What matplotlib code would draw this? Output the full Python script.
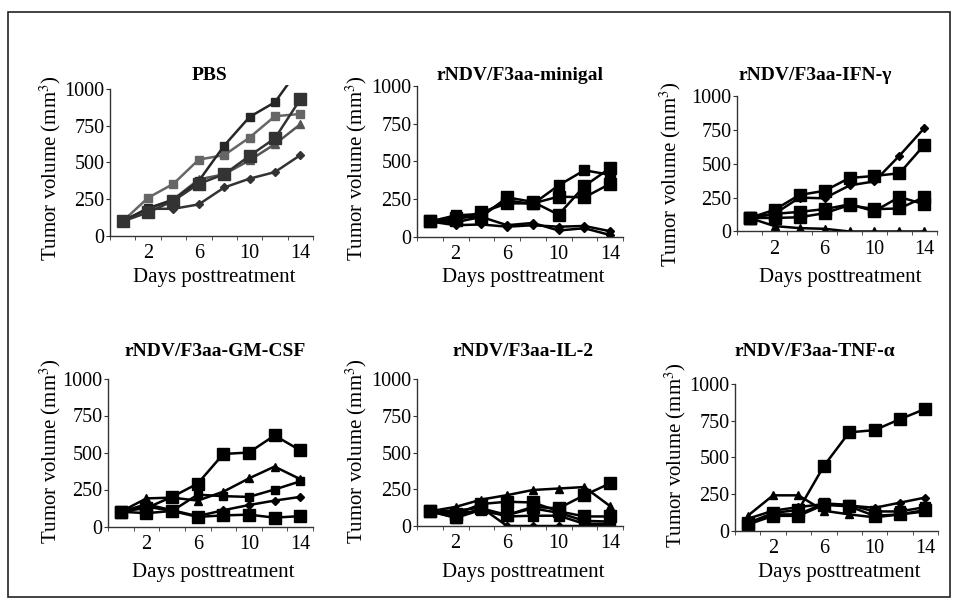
import matplotlib
matplotlib.use("Agg")
import matplotlib.pyplot as plt
from matplotlib.patches import Rectangle

plt.rcParams["font.family"] = ["Liberation Serif", "DejaVu Serif"]
plt.rcParams["mathtext.fontset"] = "stix"

W, H = 959, 608

days = [0, 2, 4, 6, 8, 10, 12, 14]
tick_days = [2, 6, 10, 14]
y_ticks = [0, 250, 500, 750, 1000]

titles = [
    "PBS",
    "rNDV/F3aa-minigal",
    "rNDV/F3aa-IFN-γ",
    "rNDV/F3aa-GM-CSF",
    "rNDV/F3aa-IL-2",
    "rNDV/F3aa-TNF-α",
]

# tumour volumes (mm3) per mouse, days 0..14
pbs_a = [100, 190, 245, 375, 615, 810, 910, 1150]
pbs_b = [100, 260, 355, 520, 550, 670, 815, 830]
pbs_c = [100, 160, 240, 355, 420, 545, 665, 930]
pbs_d = [100, 185, 250, 385, 420, 515, 625, 760]
pbs_e = [100, 185, 185, 215, 330, 390, 435, 550]

minigal_a = [100, 140, 150, 240, 215, 340, 440, 410]
minigal_b = [100, 110, 160, 220, 220, 265, 260, 350]
minigal_c = [100, 125, 130, 260, 230, 145, 335, 455]
minigal_d = [100, 75, 80, 65, 75, 65, 70, 35]
minigal_e = [100, 95, 130, 75, 90, 40, 55, 10]

ifn_a = [100, 130, 250, 245, 340, 370, 560, 765]
ifn_b = [100, 160, 270, 300, 395, 410, 430, 640]
ifn_c = [100, 130, 145, 165, 200, 150, 255, 200]
ifn_d = [100, 100, 105, 135, 195, 165, 170, 255]
ifn_e = [100, 40, 25, 20, 0, 0, 0, 0]

gmcsf_a = [100, 125, 200, 290, 490, 500, 615, 515]
gmcsf_b = [100, 190, 195, 175, 235, 325, 405, 320]
gmcsf_c = [100, 135, 105, 215, 205, 200, 250, 305]
gmcsf_d = [100, 150, 110, 70, 110, 145, 175, 200]
gmcsf_e = [100, 90, 105, 65, 75, 80, 60, 70]

il2_a = [100, 130, 180, 210, 245, 255, 265, 135]
il2_b = [100, 60, 120, 75, 130, 120, 210, 290]
il2_c = [100, 80, 150, 165, 160, 100, 65, 65]
il2_d = [100, 55, 110, 65, 70, 70, 15, 15]
il2_e = [100, 105, 125, 0, 0, 0, 0, 0]
il2_f = [100, 90, 100, 75, 120, 90, 35, 30]

tnf_a = [50, 120, 140, 440, 670, 685, 760, 830]
tnf_b = [100, 240, 240, 135, 110, 90, 110, 130]
tnf_c = [80, 135, 160, 180, 170, 155, 190, 225]
tnf_d = [50, 110, 110, 185, 175, 130, 130, 160]
tnf_e = [40, 100, 100, 175, 165, 100, 110, 140]

# (values, marker, markersize, colour)
panel_series = [
    [(pbs_e, "D", 4, "#333333"), (pbs_d, "^", 6, "#555555"), (pbs_b, "s", 6, "#666666"),
     (pbs_a, "s", 6, "#262626"), (pbs_c, "s", 9, "#333333")],
    [(minigal_d, "D", 4, "black"), (minigal_e, "D", 4, "black"), (minigal_a, "s", 7, "black"),
     (minigal_b, "s", 8, "black"), (minigal_c, "s", 8, "black")],
    [(ifn_e, "^", 6, "black"), (ifn_a, "D", 4, "black"), (ifn_b, "s", 8, "black"),
     (ifn_c, "s", 8, "black"), (ifn_d, "s", 8, "black")],
    [(gmcsf_e, "s", 8, "black"), (gmcsf_d, "D", 4, "black"), (gmcsf_c, "s", 6, "black"),
     (gmcsf_b, "^", 6, "black"), (gmcsf_a, "s", 8, "black")],
    [(il2_e, "D", 4, "black"), (il2_f, "D", 4, "black"), (il2_d, "s", 7, "black"),
     (il2_c, "s", 8, "black"), (il2_b, "s", 8, "black"), (il2_a, "^", 6, "black")],
    [(tnf_b, "^", 6, "black"), (tnf_c, "D", 4, "black"), (tnf_d, "s", 7, "black"),
     (tnf_e, "s", 8, "black"), (tnf_a, "s", 8, "black")],
]

# pixel layout: axis left, axis right, y of 0, y of 1000, title x/y, ylabel x/y, xlabel y
layout = [
    (110, 313, 236, 89, 210, 75, 50, 168, 277),
    (417, 623, 236.5, 86, 520, 75, 356, 168, 277),
    (737, 937, 231.5, 96, 815, 75, 670, 174, 277),
    (108, 313, 526.5, 378.5, 215, 352, 50, 451, 572),
    (417, 623, 526, 379, 523, 352, 356, 451, 572),
    (735, 938, 530.5, 384, 815, 352, 675, 455, 572),
]

y_top = 1025

fig = plt.figure(figsize=(W / 100, H / 100), dpi=100)
fig.patches.append(Rectangle((8 / W, 1 - 597 / H), 942 / W, 585 / H, transform=fig.transFigure,
                             fill=False, edgecolor="#222222", linewidth=1.2))

for title, series, (left, right, y0, y1, tx, ty, lx, ly, xly) in zip(titles, panel_series, layout):
    top = y0 - (y0 - y1) * y_top / 1000
    ax = fig.add_axes([left / W, 1 - y0 / H, (right - left) / W, (y0 - top) / H])
    for values, marker, size, color in series:
        ax.plot(days, values, color=color, linewidth=1.8, marker=marker, markersize=size,
                markerfacecolor=color, markeredgecolor=color)
    ax.set_xlim(-1, 15)
    ax.set_ylim(0, y_top)
    ax.spines["top"].set_visible(False)
    ax.spines["right"].set_visible(False)
    ax.spines["left"].set_bounds(0, 1000)
    for side in ("left", "bottom"):
        ax.spines[side].set_color("#333333")
        ax.spines[side].set_linewidth(1.0)
    ax.set_yticks(y_ticks)
    ax.set_xticks(tick_days)
    ax.set_xticks(range(-1, 16, 2), minor=True)
    ax.tick_params(axis="x", which="major", length=0, labelsize=14.5, pad=6)
    ax.tick_params(axis="x", which="minor", length=3, direction="out", color="#333333")
    ax.tick_params(axis="y", length=3, labelsize=14.5, pad=1, color="#333333")
    fig.text(tx / W, 1 - ty / H, title, ha="center", va="center", fontsize=14, fontweight="bold")
    fig.text(lx / W, 1 - ly / H, "Tumor volume (mm$^3$)", rotation=90, ha="center", va="center",
             fontsize=15)
    fig.text(((left + right) / 2 + 3) / W, 1 - xly / H, "Days posttreatment", ha="center", va="center",
             fontsize=15)

fig.savefig("out.png", dpi=100)
